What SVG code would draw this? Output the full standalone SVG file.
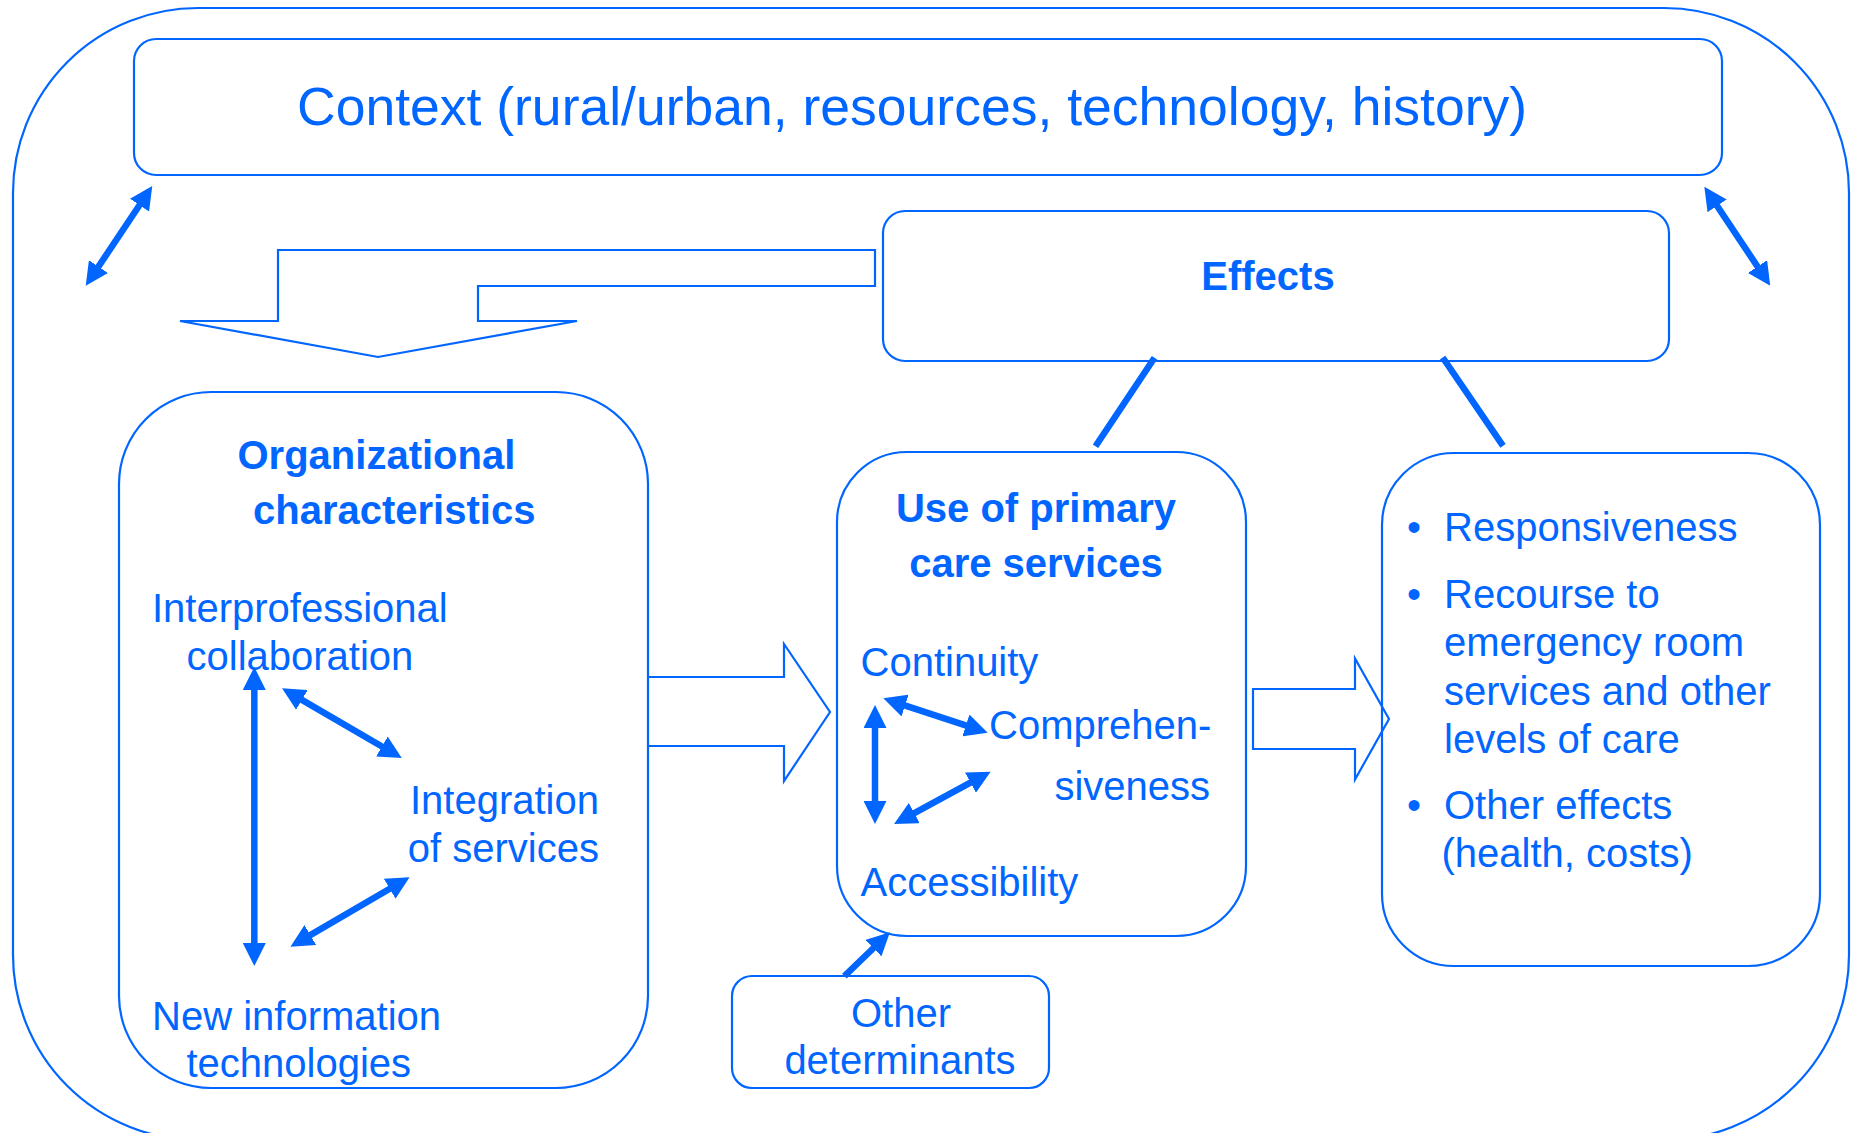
<svg xmlns="http://www.w3.org/2000/svg" width="1851" height="1133" viewBox="0 0 1851 1133">
<defs>
<style>
.box{fill:none;stroke:#0066ff;stroke-width:2.2}
.outline{fill:none;stroke:#0066ff;stroke-width:2.2;stroke-linejoin:miter}
.arr{stroke:#0066ff;stroke-width:6.5;fill:none}
.bar{stroke:#0066ff;stroke-width:6.5;stroke-linecap:butt}
text{font-family:"Liberation Sans",Arial,sans-serif;fill:#0066ff;font-size:40px}
.b{font-weight:bold}
.m{text-anchor:middle}
.e{text-anchor:end}
</style>
<marker id="ah" markerUnits="userSpaceOnUse" viewBox="0 0 23 23" markerWidth="23" markerHeight="23" refX="11" refY="11.5" orient="auto-start-reverse">
<path d="M0,0 L23,11.5 L0,23 Z" fill="#0066ff"/>
</marker>
</defs>
<g id="frame">
<rect class="box" x="13" y="8" width="1836" height="1132" rx="185" ry="185"/>
</g>
<g id="context">
<rect class="box" x="134" y="39" width="1588" height="136" rx="22"/>
<text x="297" y="125" style="font-size:53.5px">Context (rural/urban, resources, technology, history)</text>
</g>
<g id="effects">
<rect class="box" x="883" y="211" width="786" height="150" rx="22"/>
<text class="b m" x="1268" y="290">Effects</text>
</g>
<g id="organizational">
<rect class="box" x="119" y="392" width="529" height="696" rx="92"/>
<text class="b" x="237.5" y="469">Organizational</text>
<text class="b" x="253" y="523.6">characteristics</text>
<text x="152" y="622.4">Interprofessional</text>
<text x="186.5" y="670.4">collaboration</text>
<text class="e" x="599" y="814.4">Integration</text>
<text class="e" x="599" y="862.4">of services</text>
<text x="152" y="1030.4">New information</text>
<text x="186.5" y="1077.4">technologies</text>
</g>
<g id="use">
<rect class="box" x="837" y="452" width="409" height="484" rx="70"/>
<text class="b m" x="1036" y="522">Use of primary</text>
<text class="b m" x="1036" y="577">care services</text>
<text x="860.5" y="676.4">Continuity</text>
<text x="989" y="739.4">Comprehen-</text>
<text class="e" x="1210" y="800.4">siveness</text>
<text x="860.5" y="896.4">Accessibility</text>
</g>
<g id="other">
<rect class="box" x="732" y="976" width="317" height="112" rx="20"/>
<text class="m" x="901" y="1027.4">Other</text>
<text class="m" x="900" y="1074.4">determinants</text>
</g>
<g id="outcomes">
<rect class="box" x="1382" y="453" width="438" height="513" rx="72"/>
<text x="1407" y="541.4">•</text>
<text x="1444" y="541.4">Responsiveness</text>
<text x="1407" y="607.9">•</text>
<text x="1444" y="607.9">Recourse to</text>
<text x="1444" y="656.4">emergency room</text>
<text x="1444" y="704.9">services and other</text>
<text x="1444" y="752.9">levels of care</text>
<text x="1407" y="818.9">•</text>
<text x="1444" y="818.9">Other effects</text>
<text x="1441.5" y="866.9">(health, costs)</text>
</g>
<g id="connectors">
<polygon class="outline" points="278,250 875,250 875,286 478,286 478,321 577,321 378,357 180,321 278,321"/>
<polyline class="outline" points="648,677 784,677 784,644 830,712 784,781 784,746 648,746"/>
<polygon class="outline" points="1253,689 1355,689 1355,658.5 1389,719 1355,779.5 1355,749 1253,749"/>
<line class="arr" x1="145.6" y1="196" x2="92.4" y2="275.7" marker-start="url(#ah)" marker-end="url(#ah)"/>
<line class="arr" x1="1711" y1="196.7" x2="1763.6" y2="275.7" marker-start="url(#ah)" marker-end="url(#ah)"/>
<line class="arr" x1="254.3" y1="679" x2="254.3" y2="954" marker-start="url(#ah)" marker-end="url(#ah)"/>
<line class="arr" x1="292.4" y1="694.4" x2="391.4" y2="752" marker-start="url(#ah)" marker-end="url(#ah)"/>
<line class="arr" x1="300.8" y1="940.6" x2="399.2" y2="883.2" marker-start="url(#ah)" marker-end="url(#ah)"/>
<line class="arr" x1="875" y1="717" x2="875" y2="812" marker-start="url(#ah)" marker-end="url(#ah)"/>
<line class="arr" x1="894.7" y1="702.1" x2="976.3" y2="728.9" marker-start="url(#ah)" marker-end="url(#ah)"/>
<line class="arr" x1="904.6" y1="818.3" x2="980.1" y2="777.4" marker-start="url(#ah)" marker-end="url(#ah)"/>
<line class="arr" x1="844.4" y1="976.2" x2="881.3" y2="940.5" marker-end="url(#ah)"/>
<line class="bar" x1="1154.5" y1="357.7" x2="1095.5" y2="446.2"/>
<line class="bar" x1="1442.7" y1="357.5" x2="1503" y2="445.8"/>
</g>
</svg>
